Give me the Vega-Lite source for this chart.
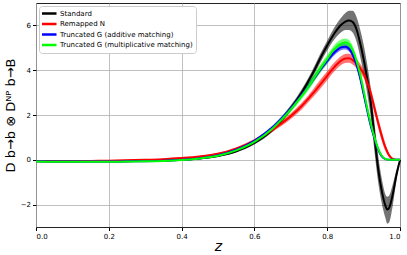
{
"$schema": "https://vega.github.io/schema/vega-lite/v6.json",
"width": 364, "height": 224,
"autosize": "none",
"padding": {"left": 36, "top": 3, "right": 7, "bottom": 28},
"config": {
 "font": "DejaVu Sans",
 "view": {"stroke": "#222", "strokeWidth": 1},
 "axis": {"labelFontSize": 7, "labelColor": "#000", "tickColor": "#000", "tickSize": 3.5, "domain": false, "gridColor": "#b0b0b0", "gridWidth": 0.8, "titleColor": "#000", "titleFontWeight": "normal", "labelPadding": 2},
 "legend": {"orient": "top-left", "offset": 3, "fillColor": "#ffffff", "strokeColor": "#cccccc", "cornerRadius": 3, "padding": 3, "labelFontSize": 7, "labelColor": "#000", "symbolType": "M-1.6,0H1.6", "symbolStrokeWidth": 2.5, "symbolSize": 100, "rowPadding": 1.5, "clipHeight": 9, "labelOffset": 5}
},
"datasets": {
"d": [
{"s":"Standard","z":0,"y":-0.05,"lo":-0.08,"hi":-0.02},
{"s":"Standard","z":0.05,"y":-0.06,"lo":-0.09,"hi":-0.03},
{"s":"Standard","z":0.1,"y":-0.07,"lo":-0.1,"hi":-0.04},
{"s":"Standard","z":0.15,"y":-0.07,"lo":-0.1,"hi":-0.04},
{"s":"Standard","z":0.2,"y":-0.07,"lo":-0.1,"hi":-0.04},
{"s":"Standard","z":0.25,"y":-0.06,"lo":-0.09,"hi":-0.03},
{"s":"Standard","z":0.3,"y":-0.05,"lo":-0.08,"hi":-0.02},
{"s":"Standard","z":0.35,"y":-0.03,"lo":-0.06,"hi":0},
{"s":"Standard","z":0.4,"y":0,"lo":-0.03,"hi":0.03},
{"s":"Standard","z":0.45,"y":0.06,"lo":0.03,"hi":0.09},
{"s":"Standard","z":0.5,"y":0.17,"lo":0.13,"hi":0.21},
{"s":"Standard","z":0.55,"y":0.38,"lo":0.33,"hi":0.43},
{"s":"Standard","z":0.6,"y":0.75,"lo":0.68,"hi":0.82},
{"s":"Standard","z":0.65,"y":1.35,"lo":1.25,"hi":1.45},
{"s":"Standard","z":0.7,"y":2.3,"lo":2.17,"hi":2.43},
{"s":"Standard","z":0.73,"y":3.0,"lo":2.85,"hi":3.15},
{"s":"Standard","z":0.76,"y":3.85,"lo":3.68,"hi":4.02},
{"s":"Standard","z":0.78,"y":4.5,"lo":4.3,"hi":4.7},
{"s":"Standard","z":0.8,"y":5.1,"lo":4.88,"hi":5.32},
{"s":"Standard","z":0.82,"y":5.65,"lo":5.38,"hi":5.92},
{"s":"Standard","z":0.84,"y":6.05,"lo":5.72,"hi":6.38},
{"s":"Standard","z":0.85,"y":6.17,"lo":5.8,"hi":6.55},
{"s":"Standard","z":0.86,"y":6.22,"lo":5.8,"hi":6.65},
{"s":"Standard","z":0.87,"y":6.15,"lo":5.68,"hi":6.65},
{"s":"Standard","z":0.88,"y":5.85,"lo":5.3,"hi":6.4},
{"s":"Standard","z":0.89,"y":5.25,"lo":4.65,"hi":5.85},
{"s":"Standard","z":0.9,"y":4.5,"lo":3.85,"hi":5.15},
{"s":"Standard","z":0.91,"y":3.6,"lo":2.95,"hi":4.25},
{"s":"Standard","z":0.92,"y":2.5,"lo":1.85,"hi":3.15},
{"s":"Standard","z":0.93,"y":1.0,"lo":0.35,"hi":1.65},
{"s":"Standard","z":0.94,"y":-0.4,"lo":-1.0,"hi":0.2},
{"s":"Standard","z":0.95,"y":-1.4,"lo":-1.95,"hi":-0.85},
{"s":"Standard","z":0.96,"y":-2.05,"lo":-2.6,"hi":-1.55},
{"s":"Standard","z":0.965,"y":-2.22,"lo":-2.85,"hi":-1.65},
{"s":"Standard","z":0.97,"y":-2.15,"lo":-2.8,"hi":-1.6},
{"s":"Standard","z":0.98,"y":-1.55,"lo":-2.05,"hi":-1.1},
{"s":"Standard","z":0.99,"y":-0.7,"lo":-0.95,"hi":-0.45},
{"s":"Standard","z":1.0,"y":0,"lo":0,"hi":0},
{"s":"Remapped N","z":0,"y":-0.06,"lo":-0.09,"hi":-0.03},
{"s":"Remapped N","z":0.05,"y":-0.06,"lo":-0.09,"hi":-0.03},
{"s":"Remapped N","z":0.1,"y":-0.06,"lo":-0.09,"hi":-0.03},
{"s":"Remapped N","z":0.15,"y":-0.05,"lo":-0.08,"hi":-0.02},
{"s":"Remapped N","z":0.2,"y":-0.04,"lo":-0.07,"hi":-0.01},
{"s":"Remapped N","z":0.25,"y":-0.02,"lo":-0.05,"hi":0.01},
{"s":"Remapped N","z":0.3,"y":0,"lo":-0.03,"hi":0.03},
{"s":"Remapped N","z":0.35,"y":0.03,"lo":0,"hi":0.06},
{"s":"Remapped N","z":0.4,"y":0.08,"lo":0.05,"hi":0.11},
{"s":"Remapped N","z":0.45,"y":0.15,"lo":0.12,"hi":0.18},
{"s":"Remapped N","z":0.5,"y":0.27,"lo":0.23,"hi":0.31},
{"s":"Remapped N","z":0.55,"y":0.5,"lo":0.44,"hi":0.56},
{"s":"Remapped N","z":0.6,"y":0.85,"lo":0.77,"hi":0.93},
{"s":"Remapped N","z":0.65,"y":1.35,"lo":1.25,"hi":1.45},
{"s":"Remapped N","z":0.7,"y":1.95,"lo":1.82,"hi":2.08},
{"s":"Remapped N","z":0.73,"y":2.4,"lo":2.25,"hi":2.55},
{"s":"Remapped N","z":0.76,"y":2.95,"lo":2.78,"hi":3.12},
{"s":"Remapped N","z":0.78,"y":3.35,"lo":3.15,"hi":3.55},
{"s":"Remapped N","z":0.8,"y":3.75,"lo":3.55,"hi":3.95},
{"s":"Remapped N","z":0.82,"y":4.15,"lo":3.95,"hi":4.35},
{"s":"Remapped N","z":0.84,"y":4.45,"lo":4.25,"hi":4.65},
{"s":"Remapped N","z":0.85,"y":4.52,"lo":4.32,"hi":4.72},
{"s":"Remapped N","z":0.86,"y":4.53,"lo":4.33,"hi":4.73},
{"s":"Remapped N","z":0.87,"y":4.45,"lo":4.25,"hi":4.65},
{"s":"Remapped N","z":0.88,"y":4.3,"lo":4.1,"hi":4.5},
{"s":"Remapped N","z":0.89,"y":4.1,"lo":3.9,"hi":4.3},
{"s":"Remapped N","z":0.9,"y":3.85,"lo":3.65,"hi":4.05},
{"s":"Remapped N","z":0.91,"y":3.45,"lo":3.23,"hi":3.67},
{"s":"Remapped N","z":0.92,"y":2.95,"lo":2.73,"hi":3.17},
{"s":"Remapped N","z":0.93,"y":2.3,"lo":2.08,"hi":2.52},
{"s":"Remapped N","z":0.94,"y":1.65,"lo":1.43,"hi":1.87},
{"s":"Remapped N","z":0.95,"y":1.05,"lo":0.83,"hi":1.27},
{"s":"Remapped N","z":0.96,"y":0.55,"lo":0.39,"hi":0.71},
{"s":"Remapped N","z":0.97,"y":0.2,"lo":0.11,"hi":0.29},
{"s":"Remapped N","z":0.98,"y":0.04,"lo":0.01,"hi":0.07},
{"s":"Remapped N","z":0.99,"y":0,"lo":0,"hi":0},
{"s":"Remapped N","z":1.0,"y":0,"lo":0,"hi":0},
{"s":"Truncated G (additive matching)","z":0,"y":-0.07,"lo":-0.1,"hi":-0.04},
{"s":"Truncated G (additive matching)","z":0.05,"y":-0.08,"lo":-0.11,"hi":-0.05},
{"s":"Truncated G (additive matching)","z":0.1,"y":-0.08,"lo":-0.11,"hi":-0.05},
{"s":"Truncated G (additive matching)","z":0.15,"y":-0.08,"lo":-0.11,"hi":-0.05},
{"s":"Truncated G (additive matching)","z":0.2,"y":-0.08,"lo":-0.11,"hi":-0.05},
{"s":"Truncated G (additive matching)","z":0.25,"y":-0.07,"lo":-0.1,"hi":-0.04},
{"s":"Truncated G (additive matching)","z":0.3,"y":-0.06,"lo":-0.09,"hi":-0.03},
{"s":"Truncated G (additive matching)","z":0.35,"y":-0.04,"lo":-0.07,"hi":-0.01},
{"s":"Truncated G (additive matching)","z":0.4,"y":0,"lo":-0.03,"hi":0.03},
{"s":"Truncated G (additive matching)","z":0.45,"y":0.07,"lo":0.04,"hi":0.1},
{"s":"Truncated G (additive matching)","z":0.5,"y":0.2,"lo":0.16,"hi":0.24},
{"s":"Truncated G (additive matching)","z":0.55,"y":0.45,"lo":0.4,"hi":0.5},
{"s":"Truncated G (additive matching)","z":0.6,"y":0.85,"lo":0.79,"hi":0.91},
{"s":"Truncated G (additive matching)","z":0.65,"y":1.45,"lo":1.37,"hi":1.53},
{"s":"Truncated G (additive matching)","z":0.7,"y":2.3,"lo":2.2,"hi":2.4},
{"s":"Truncated G (additive matching)","z":0.73,"y":2.9,"lo":2.79,"hi":3.01},
{"s":"Truncated G (additive matching)","z":0.76,"y":3.55,"lo":3.42,"hi":3.68},
{"s":"Truncated G (additive matching)","z":0.78,"y":4.0,"lo":3.87,"hi":4.13},
{"s":"Truncated G (additive matching)","z":0.8,"y":4.42,"lo":4.29,"hi":4.55},
{"s":"Truncated G (additive matching)","z":0.82,"y":4.8,"lo":4.67,"hi":4.93},
{"s":"Truncated G (additive matching)","z":0.84,"y":5.03,"lo":4.9,"hi":5.16},
{"s":"Truncated G (additive matching)","z":0.85,"y":5.05,"lo":4.92,"hi":5.18},
{"s":"Truncated G (additive matching)","z":0.86,"y":4.96,"lo":4.83,"hi":5.09},
{"s":"Truncated G (additive matching)","z":0.87,"y":4.7,"lo":4.57,"hi":4.83},
{"s":"Truncated G (additive matching)","z":0.88,"y":4.28,"lo":4.15,"hi":4.41},
{"s":"Truncated G (additive matching)","z":0.89,"y":3.68,"lo":3.55,"hi":3.81},
{"s":"Truncated G (additive matching)","z":0.9,"y":2.95,"lo":2.82,"hi":3.08},
{"s":"Truncated G (additive matching)","z":0.91,"y":2.2,"lo":2.08,"hi":2.32},
{"s":"Truncated G (additive matching)","z":0.92,"y":1.5,"lo":1.4,"hi":1.6},
{"s":"Truncated G (additive matching)","z":0.93,"y":0.95,"lo":0.87,"hi":1.03},
{"s":"Truncated G (additive matching)","z":0.94,"y":0.45,"lo":0.4,"hi":0.5},
{"s":"Truncated G (additive matching)","z":0.95,"y":0.15,"lo":0.12,"hi":0.18},
{"s":"Truncated G (additive matching)","z":0.96,"y":0.03,"lo":0.02,"hi":0.04},
{"s":"Truncated G (additive matching)","z":0.97,"y":0,"lo":0,"hi":0},
{"s":"Truncated G (additive matching)","z":0.98,"y":0,"lo":0,"hi":0},
{"s":"Truncated G (additive matching)","z":0.99,"y":0,"lo":0,"hi":0},
{"s":"Truncated G (additive matching)","z":1.0,"y":0,"lo":0,"hi":0},
{"s":"Truncated G (multiplicative matching)","z":0,"y":-0.08,"lo":-0.11,"hi":-0.05},
{"s":"Truncated G (multiplicative matching)","z":0.05,"y":-0.09,"lo":-0.12,"hi":-0.06},
{"s":"Truncated G (multiplicative matching)","z":0.1,"y":-0.09,"lo":-0.12,"hi":-0.06},
{"s":"Truncated G (multiplicative matching)","z":0.15,"y":-0.09,"lo":-0.12,"hi":-0.06},
{"s":"Truncated G (multiplicative matching)","z":0.2,"y":-0.09,"lo":-0.12,"hi":-0.06},
{"s":"Truncated G (multiplicative matching)","z":0.25,"y":-0.08,"lo":-0.11,"hi":-0.05},
{"s":"Truncated G (multiplicative matching)","z":0.3,"y":-0.07,"lo":-0.1,"hi":-0.04},
{"s":"Truncated G (multiplicative matching)","z":0.35,"y":-0.05,"lo":-0.08,"hi":-0.02},
{"s":"Truncated G (multiplicative matching)","z":0.4,"y":-0.01,"lo":-0.04,"hi":0.02},
{"s":"Truncated G (multiplicative matching)","z":0.45,"y":0.06,"lo":0.03,"hi":0.09},
{"s":"Truncated G (multiplicative matching)","z":0.5,"y":0.18,"lo":0.14,"hi":0.22},
{"s":"Truncated G (multiplicative matching)","z":0.55,"y":0.42,"lo":0.37,"hi":0.47},
{"s":"Truncated G (multiplicative matching)","z":0.6,"y":0.8,"lo":0.73,"hi":0.87},
{"s":"Truncated G (multiplicative matching)","z":0.65,"y":1.4,"lo":1.3,"hi":1.5},
{"s":"Truncated G (multiplicative matching)","z":0.7,"y":2.25,"lo":2.13,"hi":2.37},
{"s":"Truncated G (multiplicative matching)","z":0.73,"y":2.85,"lo":2.71,"hi":2.99},
{"s":"Truncated G (multiplicative matching)","z":0.76,"y":3.55,"lo":3.37,"hi":3.73},
{"s":"Truncated G (multiplicative matching)","z":0.78,"y":4.05,"lo":3.87,"hi":4.23},
{"s":"Truncated G (multiplicative matching)","z":0.8,"y":4.5,"lo":4.32,"hi":4.68},
{"s":"Truncated G (multiplicative matching)","z":0.82,"y":4.95,"lo":4.77,"hi":5.13},
{"s":"Truncated G (multiplicative matching)","z":0.84,"y":5.2,"lo":5.02,"hi":5.38},
{"s":"Truncated G (multiplicative matching)","z":0.85,"y":5.24,"lo":5.06,"hi":5.42},
{"s":"Truncated G (multiplicative matching)","z":0.86,"y":5.17,"lo":4.99,"hi":5.35},
{"s":"Truncated G (multiplicative matching)","z":0.87,"y":4.9,"lo":4.72,"hi":5.08},
{"s":"Truncated G (multiplicative matching)","z":0.88,"y":4.45,"lo":4.27,"hi":4.63},
{"s":"Truncated G (multiplicative matching)","z":0.89,"y":3.85,"lo":3.67,"hi":4.03},
{"s":"Truncated G (multiplicative matching)","z":0.9,"y":3.1,"lo":2.92,"hi":3.28},
{"s":"Truncated G (multiplicative matching)","z":0.91,"y":2.3,"lo":2.14,"hi":2.46},
{"s":"Truncated G (multiplicative matching)","z":0.92,"y":1.6,"lo":1.47,"hi":1.73},
{"s":"Truncated G (multiplicative matching)","z":0.93,"y":1.0,"lo":0.9,"hi":1.1},
{"s":"Truncated G (multiplicative matching)","z":0.94,"y":0.5,"lo":0.43,"hi":0.57},
{"s":"Truncated G (multiplicative matching)","z":0.95,"y":0.18,"lo":0.14,"hi":0.22},
{"s":"Truncated G (multiplicative matching)","z":0.96,"y":0.04,"lo":0.02,"hi":0.06},
{"s":"Truncated G (multiplicative matching)","z":0.97,"y":0,"lo":0,"hi":0},
{"s":"Truncated G (multiplicative matching)","z":0.98,"y":0,"lo":0,"hi":0},
{"s":"Truncated G (multiplicative matching)","z":0.99,"y":0,"lo":0,"hi":0},
{"s":"Truncated G (multiplicative matching)","z":1.0,"y":0,"lo":0,"hi":0}
]
},
"data": {"name": "d"},
"encoding": {
 "x": {"field": "z", "type": "quantitative", "scale": {"domain": [0, 1], "nice": false},
  "axis": {"values": [0, 0.2, 0.4, 0.6, 0.8, 1.0], "format": ".1f", "title": "z", "titleFontSize": 14, "titleFontStyle": "italic", "titlePadding": 0}}
},
"layer": [
 {"mark": {"type": "area", "opacity": 0.55, "interpolate": "monotone"},
  "encoding": {
   "y": {"field": "lo", "type": "quantitative", "scale": {"domain": [-3, 7], "nice": false},
    "axis": {"values": [-2, 0, 2, 4, 6], "title": "D b→b ⊗ Dᴺᴾ b→B", "titleFontSize": 13, "titlePadding": 3}},
   "y2": {"field": "hi"},
   "color": {"field": "s", "type": "nominal", "legend": null,
    "scale": {"domain": ["Standard", "Remapped N", "Truncated G (additive matching)", "Truncated G (multiplicative matching)"], "range": ["#000000", "#ff0000", "#0000ff", "#00ff00"]}}
  }},
 {"mark": {"type": "line", "strokeWidth": 2, "interpolate": "monotone"},
  "encoding": {
   "y": {"field": "y", "type": "quantitative"},
   "color": {"field": "s", "type": "nominal", "legend": {"title": null},
    "scale": {"domain": ["Standard", "Remapped N", "Truncated G (additive matching)", "Truncated G (multiplicative matching)"], "range": ["#000000", "#ff0000", "#0000ff", "#00ff00"]}}
  }}
],
"resolve": {"scale": {"color": "independent"}, "legend": {"color": "independent"}}
}
